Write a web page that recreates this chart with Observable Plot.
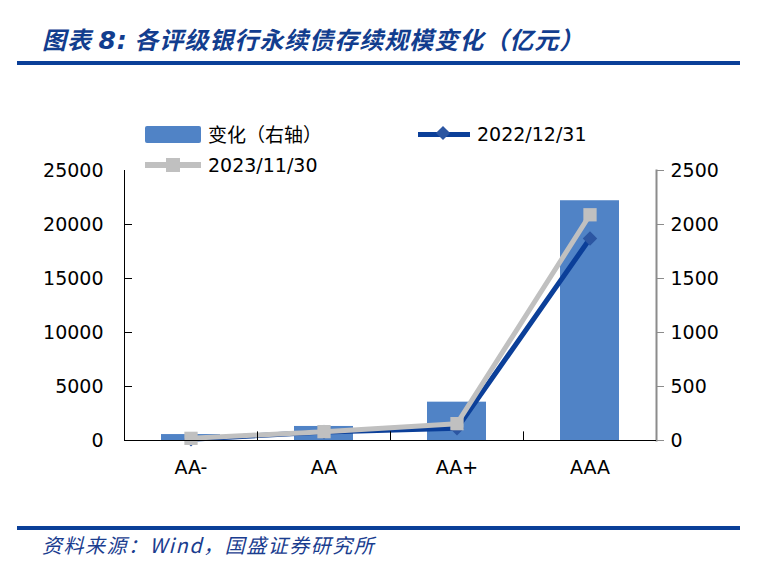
<!DOCTYPE html>
<html>
<head>
<meta charset="utf-8">
<script src="https://cdn.jsdelivr.net/npm/d3@7"></script>
<script src="https://cdn.jsdelivr.net/npm/@observablehq/plot@0.6"></script>
<style>
  html, body { margin: 0; padding: 0; background: #fff; }
  #page { position: relative; width: 757px; height: 565px; overflow: hidden; font-family: "DejaVu Sans", sans-serif; }
  .abs { position: absolute; white-space: nowrap; }
  #title { left: 42px; top: 23px; font-family: "Noto Sans CJK SC", sans-serif; font-weight: bold; font-style: italic; font-size: 24px; color: #123d8e; line-height: 32px; letter-spacing: 1px; }
  #title b { font-family: "DejaVu Sans", sans-serif; font-size: 25px; }
  .rule { left: 17px; width: 723px; height: 4px; background: #0a3f98; }
  #source { left: 42px; top: 531px; font-family: "Noto Sans CJK SC", sans-serif; font-style: italic; font-size: 20px; color: #1a3d8f; line-height: 28px; letter-spacing: 1.5px; }
  .leg { font-size: 19px; color: #000; line-height: 24px; }
  .cjk { font-family: "Noto Sans CJK SC", sans-serif; }
  #chart { left: 0; top: 150px; }
</style>
</head>
<body>
<div id="page">
  <div id="title" class="abs">图表 <b>8:</b> 各评级银行永续债存续规模变化（亿元）</div>
  <div class="abs rule" style="top:61px"></div>
  <div id="legend"></div>
  <div id="chart" class="abs"></div>
  <div class="abs rule" style="top:526px"></div>
  <div id="source" class="abs">资料来源：Wind，国盛证券研究所</div>
</div>
<script>
const categories = ["AA-", "AA", "AA+", "AAA"];
const changeValues = [55, 130, 355, 2220];          // 变化（右轴）
const values2022 = [120, 780, 1130, 18700];         // 2022/12/31
const values2023 = [200, 820, 1560, 20900];         // 2023/11/30
const leftTicks = [0, 5000, 10000, 15000, 20000, 25000];
const rightTicks = [0, 500, 1000, 1500, 2000, 2500];
const seriesNames = ["变化（右轴）", "2022/12/31", "2023/11/30"];
const ratio = 10; // left / right axis ratio

const barColor = "#5083c6";
const navy = "#0b3f99";
const navyMarker = "#2c56a2";
const gray = "#c0c0c0";

const data = categories.map((c, i) => ({cat: c, change: changeValues[i], a: values2022[i], b: values2023[i]}));

// legend (HTML)
const legend = document.getElementById("legend");
legend.innerHTML = `
  <div class="abs" style="left:145px;top:126px;width:56px;height:17px;background:${barColor};border-radius:2px"></div>
  <div class="abs leg cjk" style="left:208px;top:122px">${seriesNames[0]}</div>
  <div class="abs" style="left:418px;top:132px;width:52px;height:5px;background:${navy}"></div>
  <div class="abs" style="left:438px;top:128px;width:10px;height:10px;background:${navyMarker};transform:rotate(45deg)"></div>
  <div class="abs leg" style="left:477px;top:122px">${seriesNames[1]}</div>
  <div class="abs" style="left:145px;top:162px;width:56px;height:6px;background:${gray}"></div>
  <div class="abs" style="left:166px;top:158px;width:14px;height:14px;background:${gray}"></div>
  <div class="abs leg" style="left:208px;top:153px">${seriesNames[2]}</div>
`;

const halfBand = (656 - 124) / categories.length / 2;
const fmt = d => String(d);

const chart = Plot.plot({
  width: 757,
  height: 360,
  marginTop: 20,
  marginBottom: 70,
  marginLeft: 124,
  marginRight: 101,
  style: {fontFamily: "DejaVu Sans, sans-serif", fontSize: "19px", color: "#000", background: "transparent"},
  x: {type: "band", domain: categories, padding: 0, axis: null},
  y: {domain: [0, 25000], axis: null},
  marks: [
    Plot.barY(data, {x: "cat", y: d => d.change * ratio, fill: barColor, insetLeft: 37, insetRight: 37}),
    Plot.line(data, {x: "cat", y: "a", stroke: navy, strokeWidth: 5}),
    Plot.dot(data, {x: "cat", y: "a", symbol: "diamond2", r: 6.5, fill: navyMarker, stroke: "none"}),
    Plot.line(data, {x: "cat", y: "b", stroke: gray, strokeWidth: 5}),
    Plot.dot(data, {x: "cat", y: "b", symbol: "square", r: 7.5, fill: gray, stroke: "none"}),
    // left axis
    Plot.axisY(leftTicks, {anchor: "left", tickSize: 0, tickPadding: 21, fontSize: 19, fill: "#000", tickFormat: fmt, label: null}),
    Plot.axisY(leftTicks.filter(d => d > 0 && d < 25000), {anchor: "left", tickSize: 8, dx: 8, tickFormat: () => "", stroke: "#000", label: null}),
    Plot.frame({anchor: "left", stroke: "#000"}),
    // right axis
    Plot.axisY(rightTicks.map(d => d * ratio), {anchor: "right", tickSize: 7, tickPadding: 7, tickFormat: d => fmt(d / ratio), fontSize: 19, stroke: "#8c8c8c", fill: "#000", label: null}),
    Plot.frame({anchor: "right", stroke: "#8c8c8c", strokeWidth: 2}),
    // x axis
    Plot.axisX({anchor: "bottom", tickSize: 0, tickPadding: 20, fontSize: 19, fill: "#000", label: null}),
    Plot.ruleX(categories.slice(1), {x: d => d, y1: 0, y2: 800, dx: -halfBand, stroke: "#000"}),
    Plot.ruleY([0], {stroke: "#000"})
  ]
});
document.getElementById("chart").appendChild(chart);
</script>
</body>
</html>
